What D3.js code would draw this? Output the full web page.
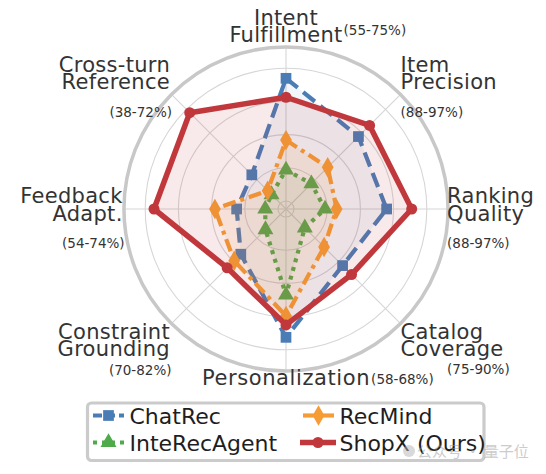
<!DOCTYPE html>
<html>
<head>
<meta charset="utf-8">
<script src="https://cdn.jsdelivr.net/npm/d3@7"></script>
<style>
  html, body { margin: 0; padding: 0; background: #ffffff; }
  svg { display: block; }
</style>
</head>
<body>
<svg id="chart" width="546" height="474"></svg>
<script>
// ---------- data ----------
const axisNames = [
  ["Intent", "Fulfillment"],
  ["Item", "Precision"],
  ["Ranking", "Quality"],
  ["Catalog", "Coverage"],
  ["Personalization"],
  ["Constraint", "Grounding"],
  ["Feedback", "Adapt."],
  ["Cross-turn", "Reference"]
];
const axisRanges = ["(55-75%)", "(88-97%)", "(88-97%)", "(75-90%)", "(58-68%)", "(70-82%)", "(54-74%)", "(38-72%)"];

const seriesNames = ["ChatRec", "InteRecAgent", "RecMind", "ShopX (Ours)"];
const chatRec      = [73.9, 56.9, 55.8, 43.4, 72.5, 33.7, 24.9, 24.3];
const inteRecAgent = [18.7, 16.8, 18.7, 11.2, 47.0, 12.7, 7.7, 7.5];
const recMind      = [36.7, 30.7, 25.7, 27.6, 59.6, 39.3, 38.0, 10.8];
const shopX        = [62.5, 66.4, 70.9, 51.0, 65.0, 45.3, 74.7, 77.2];

const gridTicks = [0, 20, 40, 60, 80];
const radialMax = 92.8;

// ---------- layout ----------
const svg = d3.select("#chart");
const cx = 286, cy = 209;
const r = d3.scaleLinear().domain([0, 100]).range([8, 174]);
const outerR = r(radialMax);
const angle = d3.scaleLinear().domain([0, axisNames.length]).range([0, 2 * Math.PI]);

const colors = ["#4a7db5", "#4faa4c", "#f59d34", "#c0383c"];
const fillOpacity = [0.07, 0.10, 0.10, 0.11];
const dashes = ["15,7", "4,5", "13,5,4,5", null];
const widths = [4.2, 4.2, 4.2, 5.5];
const allSeries = [chatRec, inteRecAgent, recMind, shopX];

const g = svg.append("g").attr("transform", `translate(${cx},${cy})`);

// grid rings
g.selectAll("circle.ring").data(gridTicks).enter().append("circle")
  .attr("class", "ring").attr("r", d => r(d))
  .attr("fill", "none").attr("stroke", "#d6d6d6").attr("stroke-width", 1.1);

// spokes
g.selectAll("line.spoke").data(axisNames).enter().append("line")
  .attr("class", "spoke")
  .attr("x1", 0).attr("y1", 0)
  .attr("x2", (d, i) => outerR * Math.sin(angle(i)))
  .attr("y2", (d, i) => -outerR * Math.cos(angle(i)))
  .attr("stroke", "#d6d6d6").attr("stroke-width", 1.1);

// outer spine
g.append("circle").attr("r", outerR).attr("fill", "none")
  .attr("stroke", "#c8c8c8").attr("stroke-width", 3.5);

// series
const lineGen = d3.lineRadial()
  .angle((d, i) => angle(i))
  .radius(d => r(d))
  .curve(d3.curveLinearClosed);

function markerPath(k, size) {
  const types = [d3.symbolSquare, d3.symbolTriangle, d3.symbolDiamond, d3.symbolCircle];
  return d3.symbol().type(types[k]).size(size)();
}
const markerSizes = [115, 110, 120, 95];

allSeries.forEach((vals, k) => {
  const sg = g.append("g");
  sg.append("path").datum(vals).attr("d", lineGen)
    .attr("fill", colors[k]).attr("fill-opacity", fillOpacity[k]).attr("stroke", "none");
  sg.append("path").datum(vals).attr("d", lineGen)
    .attr("fill", "none").attr("stroke", colors[k])
    .attr("stroke-width", widths[k])
    .attr("stroke-dasharray", dashes[k])
    .attr("stroke-linejoin", "round");
  sg.selectAll("path.m").data(vals).enter().append("path").attr("class", "m")
    .attr("d", markerPath(k, markerSizes[k]))
    .attr("transform", (d, i) => `translate(${r(d) * Math.sin(angle(i))},${-r(d) * Math.cos(angle(i))})`)
    .attr("fill", colors[k]);
});

// axis labels
const font = "'DejaVu Sans', sans-serif";
const labelColor = "#333333";
const lab = svg.append("g").attr("font-family", font).attr("fill", labelColor);
const lineH = 17.5;
axisNames.forEach((lines, i) => {
  const tx = cx + outerR * Math.sin(angle(i));
  const ty = cy - outerR * Math.cos(angle(i));
  const sx = Math.round(Math.sin(angle(i)) * 100) / 100;
  const syc = Math.round(Math.cos(angle(i)) * 100) / 100;
  let anchor = sx > 0.01 ? "start" : (sx < -0.01 ? "end" : "middle");
  let x = tx, y0;
  if (i === 0) { y0 = ty - 22; }
  else if (i === 4) { y0 = ty + 13.5; }
  else if (syc > 0.01) { y0 = ty - 22.5; }
  else if (syc < -0.01) { y0 = ty + 15; }
  else { y0 = ty - 6; }
  if (i === 2) x = tx - 1;
  if (i === 6) x = tx - 1.3;
  if (i === 5 || i === 7) x = tx - 1.4;
  const t = lab.append("text").attr("font-size", 21).attr("text-anchor", anchor)
    .attr("letter-spacing", i === 4 ? 0.6 : 0.3);
  lines.forEach((ln, j) => {
    t.append("tspan").attr("x", x).attr("y", y0 + j * lineH).text(ln);
  });
  // range sub-label
  const rt = lab.append("text").attr("font-size", 13.5).text(axisRanges[i]);
  if (i === 0) {
    const bb = t.node().getBBox();
    rt.attr("x", bb.x + bb.width + 1).attr("y", ty - 12).attr("text-anchor", "start");
  } else if (i === 4) {
    const bb = t.node().getBBox();
    rt.attr("x", bb.x + bb.width + 1).attr("y", y0 - 1).attr("text-anchor", "start");
  } else if (i === 3) {
    rt.attr("x", tx + 46.5).attr("y", y0 + lineH + 18.3).attr("text-anchor", "start");
  } else if (i === 5) {
    rt.attr("x", x + 1.5).attr("y", y0 + lineH + 19).attr("text-anchor", "end");
  } else {
    const yy = y0 + (lines.length - 1) * lineH + 27.5;
    rt.attr("x", anchor === "end" ? x + 2 : x).attr("y", yy).attr("text-anchor", anchor);
  }
});

// legend
const leg = svg.append("g").attr("font-family", font);
leg.append("rect").attr("x", 87.5).attr("y", 403).attr("width", 396.5).attr("height", 57.5)
  .attr("rx", 4).attr("fill", "#ffffff").attr("fill-opacity", 0.9)
  .attr("stroke", "#cbcbcb").attr("stroke-width", 3.2);
const legPos = [[93, 415.5], [93, 442.5], [303, 415.5], [303, 442.5]];
const legDash = ["9,4", "4,5", null, null];
allSeries.forEach((vals, k) => {
  const [lx, ly] = legPos[k];
  const len = k === 3 ? 36 : 31;
  const x0 = k === 3 ? lx - 3 : lx;
  leg.append("line").attr("x1", x0).attr("x2", x0 + len).attr("y1", ly).attr("y2", ly)
    .attr("stroke", colors[k]).attr("stroke-width", widths[k])
    .attr("stroke-dasharray", legDash[k]);
  leg.append("path").attr("d", markerPath(k, markerSizes[k]))
    .attr("transform", `translate(${x0 + len / 2},${ly})`).attr("fill", colors[k]);
  leg.append("text").attr("x", lx + 36.5).attr("y", ly + 8).attr("font-size", 22)
    .attr("fill", "#1e1e1e").text(seriesNames[k]);
});

// watermark
const wm = svg.append("g").attr("opacity", 0.5);
wm.append("circle").attr("cx", 409).attr("cy", 451).attr("r", 6).attr("fill", "#b5b5b5");
wm.append("text").attr("x", 417).attr("y", 457).attr("font-family", "'Noto Sans CJK SC', sans-serif")
  .attr("font-size", 15).attr("fill", "#9a9a9a").text("公众号 · 量子位");
</script>
</body>
</html>
